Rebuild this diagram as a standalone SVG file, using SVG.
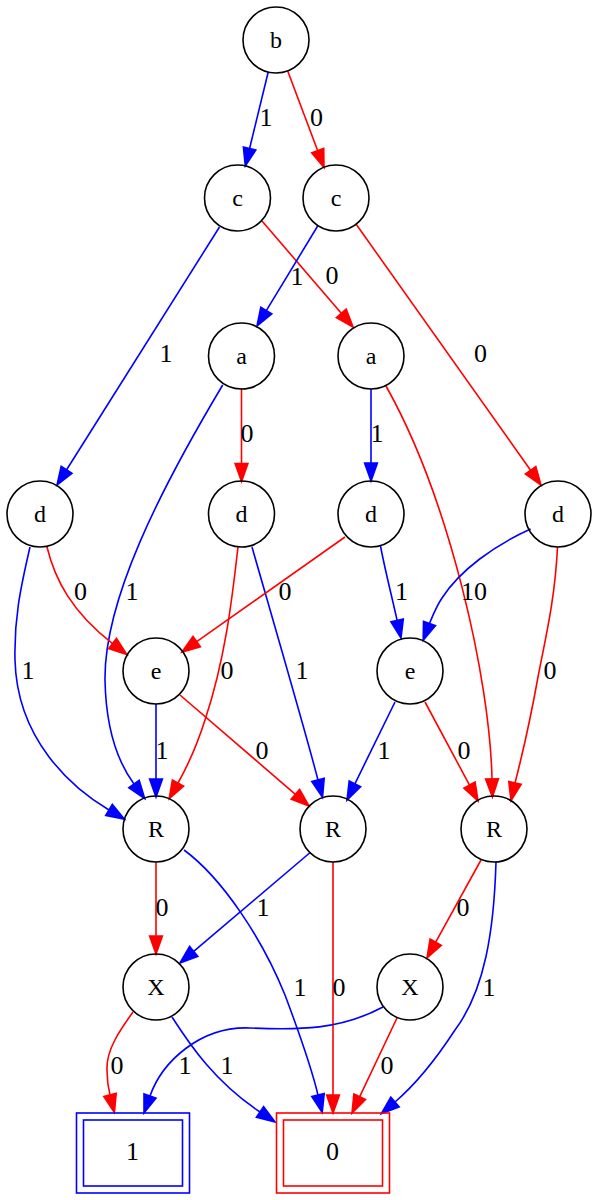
<svg xmlns="http://www.w3.org/2000/svg" width="598" height="1200" viewBox="0 0 598 1200">
<style>
.n ellipse{fill:none;stroke:#000;stroke-width:1.6}
.n text{font-family:"Liberation Serif","Times New Roman",serif;font-size:24px;text-anchor:middle;fill:#000}
.t text{font-family:"Liberation Serif","Times New Roman",serif;font-size:26px;text-anchor:middle;fill:#000}
.t1 rect{fill:none;stroke:#0000ff;stroke-width:1.6}
.t0 rect{fill:none;stroke:#ff0000;stroke-width:1.6}
.b path{fill:none;stroke:#0000ff;stroke-width:1.6}
.b polygon{fill:#0000ff;stroke:#0000ff;stroke-width:1.6}
.r path{fill:none;stroke:#ff0000;stroke-width:1.6}
.r polygon{fill:#ff0000;stroke:#ff0000;stroke-width:1.6}
.lbl{font-family:"Liberation Serif","Times New Roman",serif;font-size:26px;text-anchor:middle;fill:#000}
</style>
<rect width="598" height="1200" fill="#fff"/>
<g id="connectors">
<g class="b"><path d="M268.2,72 L249.6,148.5"/><polygon points="245.3,166 243.4,147 255.8,150"/></g>
<g class="r"><path d="M287.7,71 L317.7,150.7"/><polygon points="324,167.5 311.7,152.9 323.7,148.4"/></g>
<g class="b"><path d="M219.5,227 L66.6,469.8"/><polygon points="57,485 61.2,466.4 72,473.2"/></g>
<g class="r"><path d="M262,221 L341.3,313.3"/><polygon points="353,327 336.4,317.5 346.2,309.1"/></g>
<g class="b"><path d="M318,225.5 L266.3,310.6"/><polygon points="257,326 260.8,307.3 271.8,313.9"/></g>
<g class="r"><path d="M356,224 L530.6,470.3"/><polygon points="541,485 525.4,474 535.8,466.6"/></g>
<g class="b"><path d="M222.7,385 C160,490 104,600 105,680 C106,732 120,765 134,784"/><polygon points="144.7,798.5 128.8,787.8 139.2,780.2"/></g>
<g class="r"><path d="M241.5,388.5 L241.5,463.5"/><polygon points="241.5,481.5 235.1,463.5 247.9,463.5"/></g>
<g class="b"><path d="M371,389 L371,463"/><polygon points="371,481 364.6,463 377.4,463"/></g>
<g class="r"><path d="M386,386 C450,500 490,680 492,779"/><polygon points="492.4,797 485.6,779.1 498.4,778.9"/></g>
<g class="b"><path d="M30,547 C20,590 14,620 15,660 C17,740 72,788 109,810"/><polygon points="124.5,819.2 105.7,815.5 112.3,804.5"/></g>
<g class="r"><path d="M47,547 C55,580 72,612 112.6,643.6"/><polygon points="126.8,654.6 108.7,648.6 116.5,638.5"/></g>
<g class="r"><path d="M238,547 C232,600 225,660 205,720 C197,745 187,767 178,783"/><polygon points="169.2,798.7 172.4,779.9 183.6,786.1"/></g>
<g class="b"><path d="M252,547 C270,610 305,730 318,780"/><polygon points="322.5,797.4 311.8,781.6 324.2,778.4"/></g>
<g class="r"><path d="M345,537 L196.7,641.6"/><polygon points="182,652 193,636.4 200.4,646.8"/></g>
<g class="b"><path d="M380.5,546 C385,570 392,597 397.1,620.4"/><polygon points="401,638 390.9,621.8 403.3,619"/></g>
<g class="b"><path d="M530.6,529 C495,545 460,570 442,598 C436,607 433,615 429.5,623.5"/><polygon points="423.2,640.3 423.5,621.3 435.5,625.7"/></g>
<g class="r"><path d="M557.5,547 C555,600 545,640 538,677 C531,716 523,752 515,783"/><polygon points="511,800.6 508.8,781.6 521.2,784.4"/></g>
<g class="b"><path d="M156,704 L156,779"/><polygon points="156,797 149.6,779 162.4,779"/></g>
<g class="r"><path d="M180,695 L295.4,794.3"/><polygon points="309,806 291.2,799.2 299.6,789.5"/></g>
<g class="b"><path d="M395,702 L354.9,783.8"/><polygon points="347,800 349.2,781 360.6,786.6"/></g>
<g class="r"><path d="M425,702 L469.5,785.1"/><polygon points="478,801 463.9,788.1 475.1,782.1"/></g>
<g class="r"><path d="M156,862 L156,936"/><polygon points="156,954 149.6,936 162.4,936"/></g>
<g class="b"><path d="M184,850 C222,878 262,938 285,995 C300,1035 312,1070 318,1095"/><polygon points="322.2,1112.5 311.8,1096.5 324.2,1093.5"/></g>
<g class="b"><path d="M309.6,853 L193.7,951.4"/><polygon points="180,963 189.6,946.5 197.8,956.3"/></g>
<g class="r"><path d="M333,862 L333,1095"/><polygon points="333,1113 326.6,1095 339.4,1095"/></g>
<g class="r"><path d="M481,860 L435.7,942.2"/><polygon points="427,958 430.1,939.1 441.3,945.3"/></g>
<g class="b"><path d="M496,862 C494,930 485,990 455,1030 C438,1056 416,1084 395,1102"/><polygon points="381.3,1113.7 390.8,1097.1 399.2,1106.9"/></g>
<g class="r"><path d="M133,1012 C120,1030 106,1050 107,1070 C107,1080 108,1087 110,1095"/><polygon points="114.4,1112.5 103.8,1096.6 116.2,1093.4"/></g>
<g class="b"><path d="M172,1017 C190,1045 215,1082 260,1112"/><polygon points="275,1122 256.4,1117.3 263.6,1106.7"/></g>
<g class="b"><path d="M383,1007 C340,1030 300,1030 250,1028 C200,1026 162,1062 150,1096"/><polygon points="144,1113 144,1093.9 156,1098.1"/></g>
<g class="r"><path d="M397,1018 L359.7,1096.7"/><polygon points="352,1113 353.9,1094 365.5,1099.4"/></g>
<text class="lbl" x="266" y="126">1</text>
<text class="lbl" x="316.5" y="126">0</text>
<text class="lbl" x="166" y="362">1</text>
<text class="lbl" x="332" y="284">0</text>
<text class="lbl" x="297" y="285">1</text>
<text class="lbl" x="480.5" y="362">0</text>
<text class="lbl" x="132" y="600">1</text>
<text class="lbl" x="247" y="442">0</text>
<text class="lbl" x="377" y="442">1</text>
<text class="lbl" x="480.4" y="600">0</text>
<text class="lbl" x="467.6" y="600">1</text>
<text class="lbl" x="28" y="679">1</text>
<text class="lbl" x="80.5" y="600">0</text>
<text class="lbl" x="227" y="679">0</text>
<text class="lbl" x="302" y="679">1</text>
<text class="lbl" x="285" y="600">0</text>
<text class="lbl" x="401.5" y="600">1</text>
<text class="lbl" x="550" y="679">0</text>
<text class="lbl" x="162" y="759">1</text>
<text class="lbl" x="262" y="759">0</text>
<text class="lbl" x="384" y="759">1</text>
<text class="lbl" x="464" y="759">0</text>
<text class="lbl" x="162" y="916">0</text>
<text class="lbl" x="263" y="916">1</text>
<text class="lbl" x="463" y="916">0</text>
<text class="lbl" x="300" y="996">1</text>
<text class="lbl" x="339" y="996">0</text>
<text class="lbl" x="489" y="996">1</text>
<text class="lbl" x="117" y="1074">0</text>
<text class="lbl" x="185" y="1074">1</text>
<text class="lbl" x="227" y="1074">1</text>
<text class="lbl" x="387" y="1074">0</text>
</g>
<g id="n_b" class="n"><ellipse cx="276" cy="40" rx="33" ry="33"/><text x="276" y="48">b</text></g>
<g id="n_c1" class="n"><ellipse cx="237.5" cy="198" rx="33" ry="33"/><text x="237.5" y="206">c</text></g>
<g id="n_c2" class="n"><ellipse cx="336" cy="198" rx="33" ry="33"/><text x="336" y="206">c</text></g>
<g id="n_a1" class="n"><ellipse cx="241.5" cy="356" rx="33" ry="33"/><text x="241.5" y="364">a</text></g>
<g id="n_a2" class="n"><ellipse cx="371" cy="356" rx="33" ry="33"/><text x="371" y="364">a</text></g>
<g id="n_d1" class="n"><ellipse cx="40" cy="514" rx="33" ry="33"/><text x="40" y="522">d</text></g>
<g id="n_d2" class="n"><ellipse cx="241.5" cy="514" rx="33" ry="33"/><text x="241.5" y="522">d</text></g>
<g id="n_d3" class="n"><ellipse cx="371" cy="514" rx="33" ry="33"/><text x="371" y="522">d</text></g>
<g id="n_d4" class="n"><ellipse cx="558" cy="514" rx="33" ry="33"/><text x="558" y="522">d</text></g>
<g id="n_e1" class="n"><ellipse cx="156" cy="671" rx="33" ry="33"/><text x="156" y="679">e</text></g>
<g id="n_e2" class="n"><ellipse cx="410" cy="671" rx="33" ry="33"/><text x="410" y="679">e</text></g>
<g id="n_R1" class="n"><ellipse cx="156" cy="829" rx="33" ry="33"/><text x="156" y="837">R</text></g>
<g id="n_R2" class="n"><ellipse cx="333" cy="829" rx="33" ry="33"/><text x="333" y="837">R</text></g>
<g id="n_R3" class="n"><ellipse cx="494" cy="829" rx="33" ry="33"/><text x="494" y="837">R</text></g>
<g id="n_X1" class="n"><ellipse cx="156" cy="987" rx="33" ry="33"/><text x="156" y="995">X</text></g>
<g id="n_X2" class="n"><ellipse cx="410" cy="987" rx="33" ry="33"/><text x="410" y="995">X</text></g>
<g id="t_1" class="t t1"><rect x="76.5" y="1113" width="113" height="80"/><rect x="83.5" y="1120" width="99" height="66"/><text x="132.5" y="1160">1</text></g>
<g id="t_0" class="t t0"><rect x="276.5" y="1113" width="113" height="80"/><rect x="283.5" y="1120" width="99" height="66"/><text x="332.5" y="1160">0</text></g>
</svg>
